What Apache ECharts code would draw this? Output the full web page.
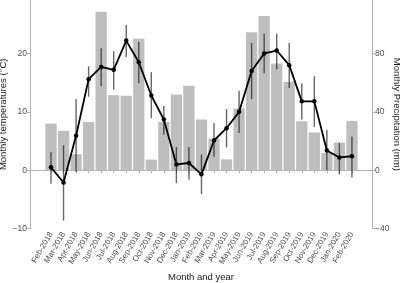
<!DOCTYPE html>
<html>
<head>
<meta charset="utf-8">
<script src="https://cdn.jsdelivr.net/npm/echarts@6/dist/echarts.min.js"></script>
<style>
  html, body { margin: 0; padding: 0; background: #fff; }
  #chart { width: 400px; height: 283px; }
</style>
</head>
<body>
<div id="chart"></div>
<script>
const months = [
  'Feb-2018', 'Mar-2018', 'Apr-2018', 'May-2018', 'Jun-2018', 'Jul-2018', 'Aug-2018',
  'Sep-2018', 'Oct-2018', 'Nov-2018', 'Dec-2018', 'Jan-2019', 'Feb-2019', 'Mar-2019',
  'Apr-2019', 'May-2019', 'Jun-2019', 'Jul-2019', 'Aug-2019', 'Sep-2019', 'Oct-2019',
  'Nov-2019', 'Dec-2019', 'Jan-2020', 'Feb-2020'
]
// monthly precipitation (mm), right axis
const precip = [32.0, 27.0, 11.0, 33.1, 108.6, 51.4, 51.0, 90.1, 7.3, 33.1, 51.9, 57.8, 34.8,
  21.7, 7.5, 42.3, 94.6, 105.6, 73.2, 60.6, 33.6, 25.9, 11.9, 19.0, 33.8]
// monthly mean temperature (°C), left axis
const temp = [0.5, -2.1, 5.9, 15.6, 17.7, 17.2, 22.2, 18.5, 12.8, 8.7, 1.0, 1.25, -0.7,
  5.1, 7.2, 10.0, 17.0, 20.0, 20.5, 18.0, 11.8, 11.8, 3.4, 2.2, 2.4]
const tempLow = [-2.3, -8.6, -0.3, 12.6, 14.4, 13.8, 19.4, 14.9, 8.9, 6.1, -2.2, -1.6, -4.1,
  2.3, 3.9, 6.4, 12.2, 16.6, 17.3, 14.1, 8.7, 7.4, 0.0, -0.7, -1.25]
const tempHigh = [3.1, 4.3, 12.2, 17.8, 20.9, 20.4, 24.9, 22.0, 16.8, 11.0, 4.0, 4.0, 2.7,
  8.1, 10.5, 13.6, 21.8, 23.4, 23.4, 21.8, 14.9, 16.1, 6.9, 4.7, 5.8]
const tempTicks = [-10, 0, 10, 20]
const precipTicks = [-40, 0, 40, 80]

const font = 'Liberation Sans, Arial, sans-serif'
const axisGray = '#b3b3b3'
const textGray = '#4d4d4d'
const minus = v => String(v).replace('-', '\u2212')

const chart = echarts.init(document.getElementById('chart'))

const yCommon = {
  type: 'value',
  splitLine: { show: false },
  axisLine: { show: true, lineStyle: { color: axisGray, width: 1 } },
  axisTick: { show: true, length: 3, lineStyle: { color: axisGray } },
  nameLocation: 'middle',
  nameMoveOverlap: false,
  nameTextStyle: { fontFamily: font, fontSize: 9.5, color: '#1a1a1a' },
}

chart.setOption({
  animation: false,
  backgroundColor: '#fff',
  grid: [
    { left: 30, right: 28, top: 0, bottom: 54.3, outerBoundsMode: 'none' },
    { left: 44.73, right: 41.8, top: 0, bottom: 54.3, outerBoundsMode: 'none' },
  ],
  xAxis: [
    {
      gridIndex: 0, type: 'value', min: 0, max: 1,
      axisLine: { show: true, lineStyle: { color: axisGray, width: 1 } },
      axisTick: { show: false }, axisLabel: { show: false }, splitLine: { show: false },
      name: 'Month and year', nameLocation: 'middle', nameGap: 44, nameMoveOverlap: false,
      nameTextStyle: { fontFamily: font, fontSize: 9.5, color: '#1a1a1a' },
    },
    {
      gridIndex: 1, type: 'category', data: months, boundaryGap: true,
      axisLine: { show: false },
      axisTick: { show: true, alignWithLabel: true, length: 3, lineStyle: { color: axisGray } },
      axisLabel: { rotate: 60, interval: 0, fontFamily: font, fontSize: 8, color: textGray, margin: 4 },
      splitLine: { show: false },
    },
  ],
  yAxis: [
    {
      ...yCommon, gridIndex: 0, position: 'left', min: -10, max: 29.15,
      axisTick: { ...yCommon.axisTick, customValues: tempTicks },
      axisLabel: { customValues: tempTicks, formatter: minus, fontFamily: font, fontSize: 8.5, color: textGray, margin: 3 },
      name: 'Monthly temperatures (\u00B0C)', nameGap: 22, nameRotate: 90,
    },
    {
      ...yCommon, gridIndex: 0, position: 'right', min: -40, max: 116.6,
      axisTick: { ...yCommon.axisTick, customValues: precipTicks },
      axisLabel: { customValues: precipTicks, formatter: minus, fontFamily: font, fontSize: 8.5, color: textGray, margin: 3 },
      name: 'Monthly Precipitation (mm)', nameGap: 20, nameRotate: -90,
    },
    { gridIndex: 1, type: 'value', min: -10, max: 29.15, show: false, splitLine: { show: false } },
    { gridIndex: 1, type: 'value', min: -40, max: 116.6, show: false, splitLine: { show: false } },
  ],
  series: [
    {
      name: 'Precipitation', type: 'bar', xAxisIndex: 1, yAxisIndex: 3,
      data: precip, barWidth: '90%',
      itemStyle: { color: '#bebebe' },
    },
    {
      name: 'Temperature range', type: 'custom', xAxisIndex: 1, yAxisIndex: 2,
      data: months.map((m, i) => [i, tempLow[i], tempHigh[i]]),
      encode: { x: 0, y: [1, 2] },
      renderItem: (params, api) => {
        const lo = api.coord([api.value(0), api.value(1)])
        const hi = api.coord([api.value(0), api.value(2)])
        return {
          type: 'line',
          shape: { x1: lo[0], y1: lo[1], x2: hi[0], y2: hi[1] },
          style: { stroke: 'rgba(0,0,0,0.6)', lineWidth: 1.4 },
        }
      },
      z: 3,
    },
    {
      name: 'Temperature', type: 'line', xAxisIndex: 1, yAxisIndex: 2,
      data: temp, symbol: 'circle', symbolSize: 4.5,
      lineStyle: { color: '#000', width: 1.8 },
      itemStyle: { color: '#000' },
      z: 4,
    },
  ],
})
</script>
</body>
</html>
